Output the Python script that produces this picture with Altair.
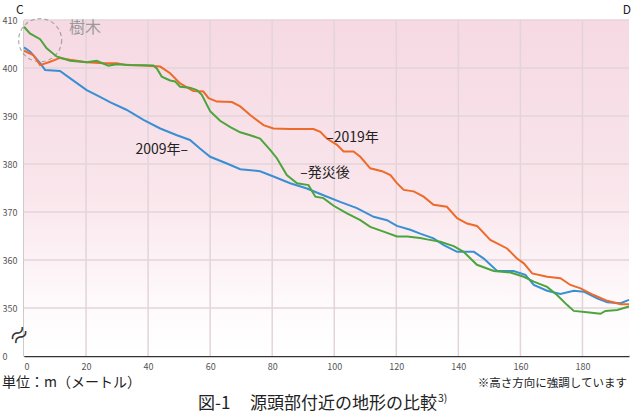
import altair as alt
import pandas as pd

# --- data ---
x_2009 = [0, 2, 5.2, 6.8, 11.6, 14.8, 20.2, 24.5, 27.7, 33, 38.5, 43.9, 49.3, 53.5, 56.8, 60, 65.4, 69.7,
          76.1, 80.4, 85.8, 91.2, 96.5, 101.9, 107.3, 112.7, 117, 120.2, 124.5, 127.7, 132, 135.3, 139.6,
          145, 148.2, 152.5, 157.8, 161.6, 164.3, 168.6, 172.9, 177.2, 180.4, 184.7, 188, 192.3, 195]
y_2009 = [404.3, 403.4, 401, 399.6, 399.4, 397.9, 395.4, 394, 392.9, 391.3, 389.2, 387.4, 386, 385, 383.2,
          381.5, 380.1, 378.9, 378.5, 377.4, 376, 374.9, 373.5, 372.1, 370.8, 369, 368.3, 367.1, 366.3,
          365.5, 364.5, 363.1, 361.7, 361.7, 360.3, 357.7, 357.7, 356.9, 354.8, 353.6, 352.9, 353.6, 353.4,
          352, 351.2, 351, 351.7]

x_2019 = [0, 3, 5.2, 8.4, 11.6, 14.8, 20.2, 25.6, 29.9, 33.1, 38.5, 43.9, 47.1, 50.3, 54.6, 57.8, 59.5,
          62.2, 67, 69.7, 72.9, 77.2, 80.4, 85.8, 90.1, 93.3, 95.5, 97.6, 100.9, 103, 106.2, 108.4, 111.6,
          115.4, 118.1, 120.2, 122.4, 125.6, 128.8, 132, 136.3, 139.6, 142.8, 146, 150.3, 155.7, 158.9,
          161.1, 163.8, 168.6, 172.9, 176.1, 179.4, 183.6, 188, 192.3, 195]
y_2019 = [403.6, 402.7, 400.6, 401.3, 402.1, 401.7, 401.2, 401, 401, 400.6, 400.5, 400.3, 398.9, 396.8,
          395.2, 395.1, 393.7, 393, 392.9, 392, 390.2, 388.1, 387.4, 387.3, 387.3, 387.3, 386.7, 385.3, 384,
          382.6, 382.6, 381.5, 379.1, 378.5, 377.7, 376, 374.6, 374.3, 373.2, 371.5, 371.1, 368.7, 367.6,
          367.1, 364.2, 362.4, 360.3, 359.3, 357.2, 356.5, 356.2, 354.8, 354.1, 352.7, 351.5, 350.8, 350.8]

x_after = [0, 1.9, 5.2, 7.3, 10.5, 14.8, 20.2, 23.4, 27.2, 29.9, 34.2, 41.7, 42.8, 44.4, 47.1, 48.7, 50.3,
           53.5, 55.7, 57.3, 60, 63.2, 66.5, 69.7, 72.9, 76.1, 79.4, 81.5, 84.7, 88, 91.7, 93.9, 96.5, 99.8,
           104.1, 108.4, 111.6, 115.9, 120.2, 123.5, 127.7, 129.9, 134.2, 138.5, 141.7, 146, 151.4, 156.8,
           161.1, 164.3, 168.6, 171.8, 175.1, 177.2, 181.5, 185.8, 187.4, 191.2, 195]
y_after = [408.6, 407.2, 406, 404.1, 402.4, 401.5, 401.2, 401.5, 400.5, 400.8, 400.6, 400.5, 399.9, 398.2,
           397.4, 397.2, 396.1, 395.9, 395.4, 394.4, 391, 389, 387.7, 386.6, 386, 385.3, 382.9, 381.2,
           377.7, 376, 375.6, 373.2, 372.9, 371.3, 369.7, 368.3, 366.9, 365.9, 364.9, 364.9, 364.6, 364.3,
           363.8, 362.9, 361.7, 359, 357.7, 357.4, 356.5, 355.5, 354.4, 352.7, 350.6, 349.4, 349.1, 348.8,
           349.4, 349.6, 350.3]

series_names = ["2009年", "2019年", "発災後"]
series_colors = ["#3a8fd4", "#ee6a2a", "#4ba53c"]

x_ticks = [0, 20, 40, 60, 80, 100, 120, 140, 160, 180]
y_ticks = [340, 350, 360, 370, 380, 390, 400, 410]
x_grid = [20, 40, 60, 80, 100, 120, 140, 160, 180]
y_grid = [350, 360, 370, 380, 390, 400, 410]

label_texts = ["2009年–", "–2019年", "–発災後"]
label_x = [52.9, 97.4, 89.0]
label_y = [382.9, 385.4, 378.1]
label_align = ["right", "left", "left"]

tree_x, tree_y = 5.2, 405.8

FONT = "Noto Sans CJK JP"
W, H = 605, 336

rows = []
for name, xs, ys in zip(series_names, [x_2009, x_2019, x_after], [y_2009, y_2019, y_after]):
    for i, (a, b) in enumerate(zip(xs, ys)):
        rows.append({"series": name, "order": i, "x": a, "y": b})
df = pd.DataFrame(rows)

xs = alt.Scale(domain=[0, 195], nice=False, zero=False)
ys = alt.Scale(domain=[340, 410], nice=False, zero=False)

bg = alt.Chart(pd.DataFrame({"a": [0]})).mark_rect(
    color=alt.Gradient(
        gradient="linear",
        stops=[alt.GradientStop(color="#f6d9e3", offset=0),
               alt.GradientStop(color="#f9e5eb", offset=0.5),
               alt.GradientStop(color="#fefafb", offset=0.85),
               alt.GradientStop(color="#ffffff", offset=1)],
        x1=0, x2=0, y1=0, y2=1)
).encode(
    x=alt.datum(0, scale=xs), x2=alt.datum(195),
    y=alt.datum(410, scale=ys), y2=alt.datum(340)
)

vgrid = alt.Chart(pd.DataFrame({"g": x_grid})).mark_rule(color="#e3d4da", strokeWidth=1.5).encode(
    x=alt.X("g:Q", scale=xs), y=alt.datum(410, scale=ys), y2=alt.datum(340)
)
hgrid = alt.Chart(pd.DataFrame({"g": y_grid})).mark_rule(color="#e3d4da", strokeWidth=1.5).encode(
    y=alt.Y("g:Q", scale=ys), x=alt.datum(0, scale=xs), x2=alt.datum(195)
)

lines = alt.Chart(df).mark_line(strokeWidth=2).encode(
    x=alt.X("x:Q", scale=xs,
            axis=alt.Axis(values=x_ticks, title=None, grid=False, ticks=False, domainColor="#333333",
                          domainWidth=1.5, labelFont=FONT, labelFontSize=9, labelColor="#555555",
                          labelPadding=6)),
    y=alt.Y("y:Q", scale=ys,
            axis=alt.Axis(values=y_ticks, title=None, grid=False, ticks=False, domainColor="#333333",
                          domainWidth=1.5, labelFont=FONT, labelFontSize=9, labelColor="#555555",
                          labelAlign="left", labelPadding=22,
                          labelExpr="datum.value == 340 ? '0' : datum.label")),
    color=alt.Color("series:N", scale=alt.Scale(domain=series_names, range=series_colors), legend=None),
    order="order:Q"
)

circle = alt.Chart(pd.DataFrame({"x": [tree_x], "y": [tree_y]})).mark_point(
    shape="circle", size=1850, filled=False, stroke="#8a8a8a", strokeWidth=1.2, strokeDash=[4, 3]
).encode(x=alt.X("x:Q", scale=xs), y=alt.Y("y:Q", scale=ys))

lab_df = pd.DataFrame({"t": label_texts, "x": label_x, "y": label_y, "a": label_align})
labels_r = alt.Chart(lab_df[lab_df.a == "right"]).mark_text(
    font=FONT, fontSize=14, color="#222222", align="right", baseline="middle"
).encode(x=alt.X("x:Q", scale=xs), y=alt.Y("y:Q", scale=ys), text="t:N")
labels_l = alt.Chart(lab_df[lab_df.a == "left"]).mark_text(
    font=FONT, fontSize=14, color="#222222", align="left", baseline="middle"
).encode(x=alt.X("x:Q", scale=xs), y=alt.Y("y:Q", scale=ys), text="t:N")


def note(text, x, y, size, color="#222222", align="left", angle=0, weight="normal"):
    kw = dict(font=FONT, fontSize=size, color=color, align=align, baseline="middle", fontWeight=weight)
    if angle:
        kw["angle"] = angle
    return alt.Chart(pd.DataFrame({"t": [text]})).mark_text(**kw).encode(
        x=alt.value(x), y=alt.value(y), text="t:N")


annots = [
    note("C", -8, -10, 12),
    note("D", 607, -10, 12, align="right"),
    note("樹木", 61, 8, 16, color="#9a9a9a", align="center"),
    note("≈", -4, 316, 22, color="#333333", align="center", angle=320),
    note("単位：m（メートル）", -22, 363, 14),
    note("※高さ方向に強調しています", 603, 364, 11.5, align="right"),
    note("図-1", 174, 384, 17),
    note("源頭部付近の地形の比較", 226, 384, 17),
    note("3)", 414, 379, 10.5),
]

chart = alt.layer(bg, vgrid, hgrid, circle, lines, labels_r, labels_l, *annots).properties(
    width=W, height=H,
    autosize=alt.AutoSizeParams(type="none"),
    padding={"left": 24, "top": 20, "right": 2, "bottom": 63},
    background="white"
).configure_view(stroke=None)

chart.save("out.html", embed_options={"renderer": "svg", "actions": False})
